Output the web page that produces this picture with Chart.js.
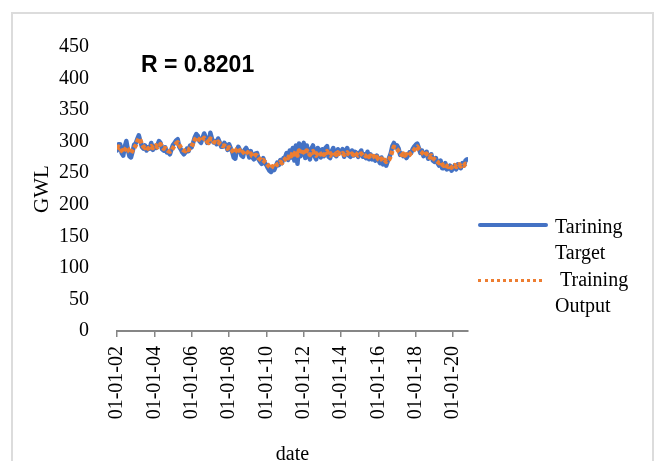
<!DOCTYPE html>
<html>
<head>
<meta charset="utf-8">
<script src="https://cdn.jsdelivr.net/npm/chart.js@4.4.1/dist/chart.umd.min.js"></script>
<style>
  html, body { margin: 0; padding: 0; background: #fff; overflow: hidden; }
  #wrap { position: relative; width: 657px; height: 461px; }
  #c { position: absolute; left: 0; top: 0; }
  #frame { position: absolute; left: 11px; top: 12px; width: 643px; height: 470px; border: 2px solid #dcdcdc; box-sizing: border-box; }
  .txt { position: absolute; font-family: "Liberation Serif", "Times New Roman", serif; font-size: 20px; line-height: 26px; color: #000; white-space: nowrap; }
  #rlabel { position: absolute; left: 141px; top: 53px; font-family: "Liberation Sans", Arial, sans-serif; font-weight: bold; font-size: 23px; line-height: 23px; color: #000; }
  #leg1 { position: absolute; left: 478px; top: 223px; width: 70px; height: 4px; border-radius: 2px; background: #4472C4; }
  #leg2 { position: absolute; left: 478px; top: 279px; width: 64px; height: 0; border-top: 3px dotted #ED7D31; }
</style>
</head>
<body>
<div id="wrap">
  <div id="frame"></div>
  <canvas id="c" width="657" height="461"></canvas>
  <div id="rlabel">R = 0.8201</div>
  <div id="leg1"></div>
  <div class="txt" style="left:555px; top:213px;">Tarining<br>Target</div>
  <div id="leg2"></div>
  <div class="txt" style="left:555px; top:266px;">&nbsp;Training<br>Output</div>
</div>
<script>
// Monthly series, Jan 2002 .. Oct 2020
const startYear = 2002;

const trainingOutput = [
  288, 292, 290, 286, 283, 287, 291, 289, 284, 282, 286, 290, // 2002
  294, 300, 305, 302, 296, 292, 290, 292, 289, 291, 293, 290, // 2003
  292, 294, 291, 293, 296, 292, 289, 290, 287, 285, 284, 286, // 2004
  290, 294, 297, 299, 295, 291, 288, 286, 285, 288, 287, 290, // 2005
  292, 298, 303, 307, 305, 303, 301, 304, 306, 303, 300, 298, // 2006
  305, 303, 300, 299, 298, 300, 297, 295, 293, 294, 292, 289, // 2007
  291, 288, 286, 282, 284, 288, 290, 285, 281, 283, 286, 284, // 2008
  283, 279, 281, 277, 276, 279, 278, 274, 272, 270, 271, 268, // 2009
  266, 263, 260, 258, 261, 259, 262, 264, 265, 268, 266, 270, // 2010
  272, 276, 274, 279, 277, 283, 280, 285, 278, 286, 281, 288, // 2011
  284, 280, 286, 282, 279, 283, 285, 281, 278, 282, 284, 280, // 2012
  283, 279, 282, 285, 280, 278, 282, 284, 281, 279, 283, 281, // 2013
  280, 282, 279, 281, 283, 280, 278, 281, 279, 282, 280, 278, // 2014
  280, 281, 278, 279, 277, 280, 276, 278, 275, 277, 274, 276, // 2015
  272, 270, 273, 269, 271, 268, 270, 272, 277, 286, 292, 290, // 2016
  288, 285, 282, 279, 281, 278, 280, 277, 279, 282, 284, 287, // 2017
  290, 292, 288, 285, 283, 280, 278, 281, 277, 275, 278, 274, // 2018
  272, 270, 268, 266, 268, 264, 262, 264, 261, 260, 262, 259, // 2019
  261, 263, 260, 262, 264, 261, 263, 262, 265, 264            // 2020
];

const trainingTarget = [
  286, 296, 296, 282, 278, 292, 301, 287, 277, 275, 284, 295, // 2002
  297, 304, 310, 301, 292, 289, 294, 286, 291, 289, 298, 287, // 2003
  293, 290, 295, 301, 298, 288, 286, 291, 283, 283, 280, 288, // 2004
  295, 298, 302, 304, 292, 288, 283, 280, 283, 289, 285, 294, // 2005
  291, 299, 307, 312, 309, 301, 298, 306, 313, 307, 298, 299, // 2006
  314, 305, 299, 301, 296, 305, 299, 292, 292, 298, 294, 287, // 2007
  296, 290, 284, 275, 273, 286, 292, 287, 278, 276, 287, 290, // 2008
  285, 275, 285, 275, 272, 281, 282, 272, 268, 265, 274, 266, // 2009
  263, 258, 254, 252, 259, 255, 261, 267, 263, 271, 266, 274, // 2010
  275, 282, 271, 286, 275, 290, 270, 294, 265, 297, 277, 291, // 2011
  298, 274, 294, 279, 272, 289, 294, 277, 272, 290, 286, 275, // 2012
  288, 277, 290, 293, 276, 274, 285, 290, 279, 277, 288, 283, // 2013
  284, 288, 276, 284, 290, 278, 276, 286, 278, 284, 282, 276, // 2014
  282, 286, 276, 280, 274, 284, 272, 280, 272, 276, 270, 278, // 2015
  271, 266, 275, 264, 270, 262, 269, 275, 282, 293, 298, 291, // 2016
  294, 289, 279, 281, 277, 279, 274, 278, 283, 282, 288, 292, // 2017
  295, 297, 290, 282, 286, 277, 280, 284, 273, 276, 280, 270, // 2018
  268, 274, 266, 262, 270, 258, 258, 266, 256, 258, 262, 254, // 2019
  258, 262, 256, 264, 260, 258, 266, 262, 270, 272            // 2020
];

const tickYears = [2002, 2004, 2006, 2008, 2010, 2012, 2014, 2016, 2018, 2020];
const tickLabels = ['01-01-02', '01-01-04', '01-01-06', '01-01-08', '01-01-10',
                    '01-01-12', '01-01-14', '01-01-16', '01-01-18', '01-01-20'];

const toPoints = arr => arr.map((v, i) => ({ x: startYear + i / 12, y: v }));

const serif = 'Liberation Serif';

new Chart(document.getElementById('c'), {
  type: 'line',
  data: {
    datasets: [
      {
        label: 'Tarining Target',
        data: toPoints(trainingTarget),
        borderColor: '#4472C4',
        borderWidth: 4.5,
        borderJoinStyle: 'round',
        borderCapStyle: 'round',
        pointRadius: 0,
        tension: 0,
        order: 2
      },
      {
        label: 'Training Output',
        data: toPoints(trainingOutput),
        borderColor: '#ED7D31',
        borderWidth: 4.5,
        borderDash: [4, 2],
        borderJoinStyle: 'round',
        pointRadius: 0,
        tension: 0,
        order: 1
      }
    ]
  },
  options: {
    responsive: false,
    animation: false,
    devicePixelRatio: 1,
    layout: { padding: { left: 0, top: 47, right: 189, bottom: 0 } },
    plugins: { legend: { display: false }, tooltip: { enabled: false } },
    scales: {
      x: {
        type: 'linear',
        min: 2002,
        max: 2020.8,
        afterFit(s) { s.height = 130; },
        ticks: {
          stepSize: 2,
          includeBounds: false,
          autoSkip: false,
          minRotation: 90,
          maxRotation: 90,
          padding: 9,
          color: '#000',
          font: { family: serif, size: 20 },
          callback(v) {
            const k = tickYears.indexOf(Math.round(v));
            return k >= 0 ? tickLabels[k] : null;
          }
        },
        grid: { drawOnChartArea: false, drawTicks: true, tickLength: 6, color: '#868686', lineWidth: 1.5 },
        border: { display: true, color: '#868686', width: 2 },
        title: {
          display: true, text: 'date', color: '#000',
          font: { family: serif, size: 20, lineHeight: 1 },
          padding: { top: 0, bottom: -4 }
        }
      },
      y: {
        min: 0,
        max: 450,
        afterFit(s) { s.width = 117; },
        ticks: { stepSize: 50, padding: 20, color: '#000', font: { family: serif, size: 20 } },
        grid: { display: false },
        border: { display: false },
        title: {
          display: true, text: 'GWL', color: '#000',
          font: { family: serif, size: 21, lineHeight: 1.2 },
          padding: { top: 30, bottom: 0 }
        }
      }
    }
  }
});
</script>
</body>
</html>
